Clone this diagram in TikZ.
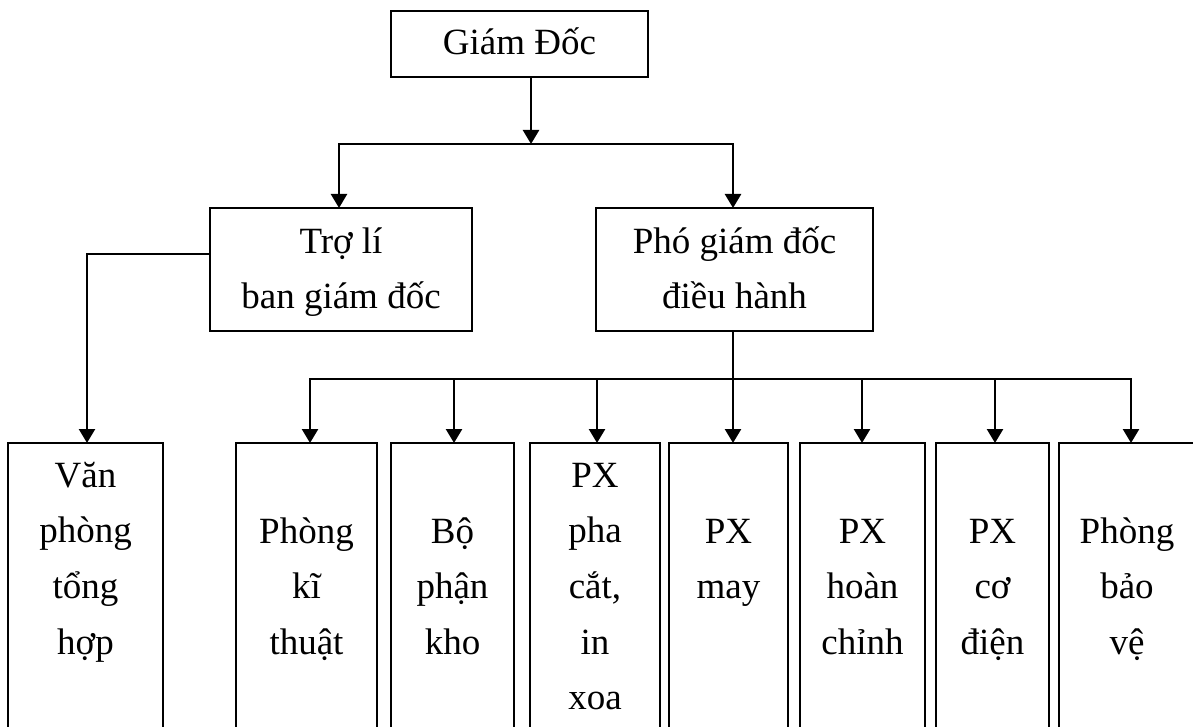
\documentclass[tikz,border=0pt]{standalone}
\usepackage{fontspec}
\setmainfont{Liberation Serif}
\usetikzlibrary{arrows.meta,calc}
\newcommand\tallstrut{\rule{0pt}{39pt}}
\begin{document}
\begin{tikzpicture}[x=1pt,y=-1pt,
  box/.style={draw, line width=1.9pt, rectangle, inner sep=0pt, outer sep=0pt, anchor=north west},
  lbl/.style={anchor=north, inner sep=0pt, outer sep=0pt, align=center,
              font=\fontsize{37}{55.7}\selectfont},
  conn/.style={line width=2.5pt},
  arr/.style={conn, -{Triangle[length=14pt,width=16pt]}}]
\useasboundingbox (0,0) rectangle (1193,727);
\clip (0,0) rectangle (1193,727);

% boxes
\node[box, minimum width=257pt, minimum height=66pt]  (gd)   at (391,11)  {};
\node[box, minimum width=262pt, minimum height=123pt] (tl)   at (210,208) {};
\node[box, minimum width=277pt, minimum height=123pt] (pg)   at (596,208) {};
\node[box, minimum width=155pt, minimum height=330pt] (van)  at (8,443)   {};
\node[box, minimum width=141pt, minimum height=330pt] (ky)   at (236,443) {};
\node[box, minimum width=123pt, minimum height=330pt] (bo)   at (391,443) {};
\node[box, minimum width=130pt, minimum height=330pt] (pha)  at (530,443) {};
\node[box, minimum width=119pt, minimum height=330pt] (may)  at (669,443) {};
\node[box, minimum width=125pt, minimum height=330pt] (hoan) at (800,443) {};
\node[box, minimum width=113pt, minimum height=330pt] (co)   at (936,443) {};
\node[box, minimum width=150pt, minimum height=330pt] (bv)   at (1059,443) {};

% labels
\node[lbl] (gdT)   at (519.5,16)  {\tallstrut Giám Đốc};
\node[lbl] (tlT)   at (341,214)   {\tallstrut Trợ lí\\ban giám đốc};
\node[lbl] (pgT)   at (734.5,214) {\tallstrut Phó giám đốc\\điều hành};
\node[lbl] (vanT)  at (85.5,448)  {\tallstrut Văn\\phòng\\tổng\\hợp};
\node[lbl] (kyT)   at (306.5,504) {\tallstrut Phòng\\kĩ\\thuật};
\node[lbl] (boT)   at (452.5,504) {\tallstrut Bộ\\phận\\kho};
\node[lbl] (phaT)  at (595,448)   {\tallstrut PX\\pha\\cắt,\\in\\xoa};
\node[lbl] (mayT)  at (728.5,504) {\tallstrut PX\\may};
\node[lbl] (hoanT) at (862.5,504) {\tallstrut PX\\hoàn\\chỉnh};
\node[lbl] (coT)   at (992.5,504) {\tallstrut PX\\cơ\\điện};
\node[lbl] (bvT)   at (1127,504)  {\tallstrut Phòng\\bảo\\vệ};

% junctions
\coordinate (j1) at (531,144);
\coordinate (j3) at (733,379);

% connectors, top level
\draw[arr] (gd.south -| j1) -- (j1);
\draw[arr] (j1) -| ([xshift=-2pt]tl.north);
\draw[arr] (j1) -| ([xshift=-1.5pt]pg.north);
\draw[arr] ($(tl.north west)!0.374!(tl.south west)$) -| ([xshift=1.5pt]van.north);

% connectors, second level
\draw[arr] (pg.south -| j3) -- (j3) -| ([xshift=3.5pt]ky.north);
\draw[arr] (j3) -| ([xshift=-3pt]bv.north);
\draw[arr] (j3) -- (may.north -| j3);
\draw[arr] ([xshift=1.5pt]bo.north |- j3) -- ([xshift=1.5pt]bo.north);
\draw[arr] ([xshift=2pt]pha.north |- j3) -- ([xshift=2pt]pha.north);
\draw[arr] ([xshift=-0.5pt]hoan.north |- j3) -- ([xshift=-0.5pt]hoan.north);
\draw[arr] ([xshift=2.5pt]co.north |- j3) -- ([xshift=2.5pt]co.north);
\end{tikzpicture}
\end{document}
